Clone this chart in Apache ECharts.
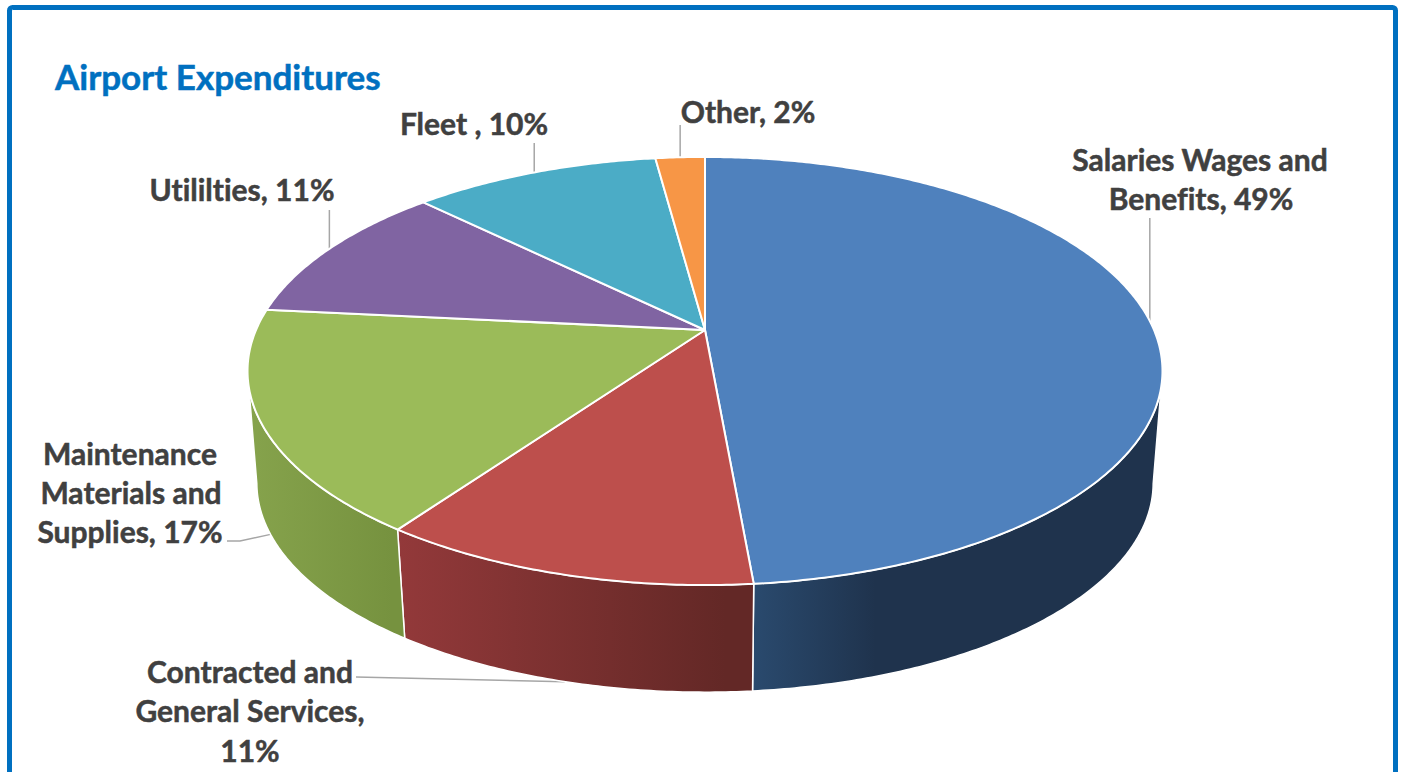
<!DOCTYPE html>
<html>
<head>
<meta charset="utf-8">
<style>
  html, body { margin: 0; padding: 0; background: #fff; }
  #chart { width: 1403px; height: 772px; }
  #chart text { font-variant-ligatures: none !important; }
</style>
<script src="https://cdn.jsdelivr.net/npm/echarts@6/dist/echarts.min.js"></script>
</head>
<body>
<div id="chart"></div>
<script>
const categories = ['Salaries Wages and Benefits', 'Contracted and General Services', 'Maintenance Materials and Supplies', 'Utililties', 'Fleet', 'Other']
const values = [48.6, 11.2, 16.8, 10.8, 10.5, 2.1]
const topColors = ['#4f81bd', '#bd4f4c', '#9bbb59', '#8064a2', '#4bacc6', '#f79646']
const sideLeft = ['#2a4a6e', '#93393a', '#86a34c', '#5f4a7a', '#35809a', '#c0722f']
const sideRight = ['#1f334d', '#632826', '#76923f', '#5f4a7a', '#35809a', '#c0722f']
const labelLines = [
  ['Salaries Wages and', 'Benefits, 49%'],
  ['Contracted and', 'General Services,', '11%'],
  ['Maintenance', 'Materials and', 'Supplies, 17%'],
  ['Utililties, 11%'],
  ['Fleet , 10%'],
  ['Other, 2%']
]

// label line positions, one [x, y] per text line
const labelPos = [
  [[1200, 159], [1201, 198]],
  [[250, 671], [250, 710], [250, 750]],
  [[130, 453], [131, 492], [130, 531]],
  [[242, 189]],
  [[474, 123]],
  [[748, 111]]
]
// leader lines start near the label and end on the rim at the slice's middle
const leaderStart = [
  [[null, 218]],
  [[356, 677]],
  [[227, 541], [240, 541]],
  [[null, 210]],
  [[null, 143]],
  [[null, 125]]
]
const leaderOnBottomRim = [false, true, true, false, false, false]

// perspective of the tilted disc
const apex = [705, 330]
const radiusX = 449
const radiusY = 206.2
const tilt = 0.1916
const bottomRadiusY = 184
const depth = 116
const depthFade = 0.02

// the wall only shows between these two angles, the silhouette of the disc
const wallFrom = Math.acos(-tilt)
const wallTo = Math.PI * 2 - wallFrom

const total = values.reduce((a, b) => a + b, 0)
const startAngles = []
values.reduce((sum, v) => {
  startAngles.push((sum / total) * Math.PI * 2)
  return sum + v
}, 0)

const project = (angle, h) => {
  const u = Math.sin(angle)
  const v = -Math.cos(angle)
  const w = 1 - tilt * v + depthFade * h
  const ry = h ? bottomRadiusY : radiusY
  return [apex[0] + (radiusX * u) / w, apex[1] + (ry * v + depth * h) / w]
}

const arcPoints = (from, to, h) => {
  const steps = Math.max(2, Math.ceil((to - from) / 0.01))
  const pts = []
  for (let i = 0; i <= steps; i++) {
    pts.push(project(from + ((to - from) * i) / steps, h))
  }
  return pts
}

const sliceRange = (i, v) => {
  const from = startAngles[i]
  return [from, from + (v / total) * Math.PI * 2]
}

const renderSide = (params, api) => {
  const i = params.dataIndex
  const range = sliceRange(i, api.value(0))
  const from = Math.max(range[0], wallFrom)
  const to = Math.min(range[1], wallTo)
  if (to <= from) return null
  const points = arcPoints(from, to, 0).concat(arcPoints(from, to, 1).reverse())
  return {
    type: 'polygon',
    shape: { points },
    style: {
      fill: {
        type: 'linear',
        x: 0,
        y: 0,
        x2: 1,
        y2: 0,
        colorStops: [
          { offset: 0, color: sideLeft[i] },
          { offset: i === 0 ? 0.3 : 0.92, color: sideRight[i] },
          { offset: 1, color: sideRight[i] }
        ]
      },
      stroke: '#fff',
      lineWidth: 1.5
    }
  }
}

const renderTop = (params, api) => {
  const i = params.dataIndex
  const [from, to] = sliceRange(i, api.value(0))
  return {
    type: 'polygon',
    shape: { points: [apex].concat(arcPoints(from, to, 0)) },
    style: { fill: topColors[i], stroke: '#fff', lineWidth: 2, lineJoin: 'round' }
  }
}

const renderLeader = (params, api) => {
  const i = params.dataIndex
  const [from, to] = sliceRange(i, api.value(0))
  const end = project((from + to) / 2, leaderOnBottomRim[i] ? 1 : 0)
  const points = leaderStart[i].map(p => [p[0] === null ? end[0] : p[0], p[1]])
  points.push(end)
  return {
    type: 'polyline',
    shape: { points },
    style: { stroke: '#a6a6a6', lineWidth: 1.5, fill: null }
  }
}

const renderLabel = (params) => {
  const i = params.dataIndex
  return {
    type: 'group',
    children: labelLines[i].map((text, k) => ({
      type: 'text',
      style: {
        text,
        x: labelPos[i][k][0],
        y: labelPos[i][k][1],
        textAlign: 'center',
        textVerticalAlign: 'middle',
        fontFamily: 'Lato',
        fontWeight: 'bold',
        fontSize: 30,
        fill: '#404040',
        stroke: '#404040',
        lineWidth: 0.5
      }
    }))
  }
}

const seriesData = values.map((v, i) => ({ name: categories[i], value: [v] }))
const layer = (renderItem, z) => ({
  type: 'custom',
  coordinateSystem: 'none',
  renderItem,
  data: seriesData,
  z,
  silent: true,
  animation: false
})

// svg renderer so the css above can switch off the ti / fi ligatures of Lato
const chart = echarts.init(document.getElementById('chart'), null, { renderer: 'svg' })
chart.setOption({
  animation: false,
  backgroundColor: '#fff',
  title: {
    text: 'Airport Expenditures',
    left: 55,
    top: 58,
    padding: 0,
    textStyle: {
      fontFamily: 'Lato',
      fontWeight: 'bold',
      fontSize: 35,
      color: '#0070c0',
      textBorderColor: '#0070c0',
      textBorderWidth: 0.5
    }
  },
  graphic: [
    {
      type: 'rect',
      shape: { x: 9.5, y: 7.5, width: 1386, height: 790, r: 3 },
      style: { fill: 'none', stroke: '#0070c0', lineWidth: 5 },
      silent: true
    }
  ],
  series: [layer(renderLeader, 1), layer(renderSide, 2), layer(renderTop, 3), layer(renderLabel, 4)]
})
</script>
</body>
</html>
